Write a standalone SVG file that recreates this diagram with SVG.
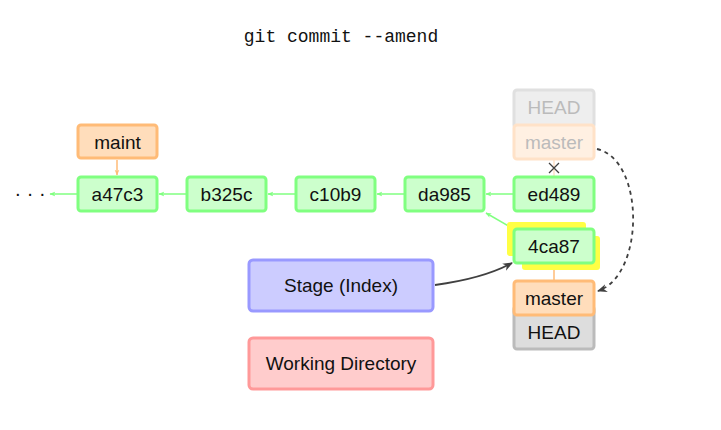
<svg xmlns="http://www.w3.org/2000/svg" width="721" height="430" viewBox="0 0 721 430">
  <defs>
    <marker id="ah-green" viewBox="0 0 10 10" refX="9" refY="5" markerWidth="6" markerHeight="6" orient="auto" markerUnits="userSpaceOnUse">
      <path d="M0,1 L10,5 L0,9 L3,5 Z" fill="#80ff80"/>
    </marker>
    <marker id="ah-orange" viewBox="0 0 10 10" refX="9" refY="5" markerWidth="6" markerHeight="6" orient="auto" markerUnits="userSpaceOnUse">
      <path d="M0,1 L10,5 L0,9 L3,5 Z" fill="#ffbb77"/>
    </marker>
    <marker id="ah-dark" viewBox="0 0 10 10" refX="9" refY="5" markerWidth="10" markerHeight="10" orient="auto" markerUnits="userSpaceOnUse">
      <path d="M0,1 L10,5 L0,9 L3,5 Z" fill="#404040"/>
    </marker>
    <style>
      text { font-family: "Liberation Sans", Arial, sans-serif; font-size: 19px; fill: #111; text-anchor: middle; dominant-baseline: central; }
      .title { font-family: "Liberation Mono", "Courier New", monospace; font-size: 18px; }
      .commit rect { fill: #ccffcc; stroke: #80ff80; stroke-width: 3; }
      .branch rect { fill: #ffddbb; stroke: #ffbb77; stroke-width: 3; }
      .head rect { fill: #dddddd; stroke: #bbbbbb; stroke-width: 3; }
      .ghost-head rect { fill: #eeeeee; stroke: #e0e0e0; stroke-width: 3; }
      .ghost-branch rect { fill: #fff0e2; stroke: #ffe2c8; stroke-width: 3; }
      .ghost-head text, .ghost-branch text { fill: #bbbbbb; }
      .stage rect { fill: #ccccff; stroke: #9999ff; stroke-width: 3; }
      .workdir rect { fill: #ffcccc; stroke: #ff9999; stroke-width: 3; }
      .parent { stroke: #80ff80; stroke-width: 1.5; fill: none; marker-end: url(#ah-green); }
      .ref { stroke: #ffbb77; stroke-width: 1.5; fill: none; marker-end: url(#ah-orange); }
      .ghost-ref { stroke: #ffe2c8; stroke-width: 1.5; fill: none; }
      .move { stroke: #404040; stroke-width: 1.8; fill: none; marker-end: url(#ah-dark); }
      .dashed { stroke-dasharray: 4 4; }
    </style>
  </defs>

  <text class="title" x="341" y="37">git commit --amend</text>

  <!-- connectors -->
  <g id="connectors">
    <line class="parent" x1="77" y1="194" x2="50" y2="194"/>
    <line class="parent" x1="186" y1="194" x2="159" y2="194"/>
    <line class="parent" x1="295" y1="194" x2="268" y2="194"/>
    <line class="parent" x1="404" y1="194" x2="377" y2="194"/>
    <line class="parent" x1="513" y1="194" x2="486" y2="194"/>
    <line class="parent" x1="512" y1="228" x2="486" y2="213"/>
    <line class="ref" x1="117" y1="160" x2="117" y2="175"/>
    <line class="ref" x1="554" y1="280" x2="554" y2="265"/>
    <line class="ghost-ref" x1="554" y1="160" x2="554" y2="176"/>
    <path d="M549,163 L559,173 M559,163 L549,173" stroke="#404040" stroke-width="1.3" fill="none"/>
    <path class="move dashed" d="M597,149 C645,160 645,275 598,291"/>
    <path class="move" d="M435,285 C465,281 490,275 512,263"/>
  </g>

  <text x="30" y="193" style="font-size:20px">· · ·</text>

  <g id="maint" class="branch">
    <rect x="78" y="125" width="79" height="33" rx="3"/>
    <text x="117.5" y="142">maint</text>
  </g>

  <g id="a47c3" class="commit">
    <rect x="78" y="177" width="79" height="34" rx="3"/>
    <text x="117.5" y="194">a47c3</text>
  </g>
  <g id="b325c" class="commit">
    <rect x="187" y="177" width="79" height="34" rx="3"/>
    <text x="226.5" y="194">b325c</text>
  </g>
  <g id="c10b9" class="commit">
    <rect x="296" y="177" width="79" height="34" rx="3"/>
    <text x="335.5" y="194">c10b9</text>
  </g>
  <g id="da985" class="commit">
    <rect x="405" y="177" width="79" height="34" rx="3"/>
    <text x="444.5" y="194">da985</text>
  </g>
  <g id="ed489" class="commit">
    <rect x="514" y="177" width="80" height="34" rx="3"/>
    <text x="554" y="194">ed489</text>
  </g>

  <g id="old-head" class="ghost-head">
    <rect x="514" y="90" width="80" height="38" rx="3"/>
    <text x="554" y="107">HEAD</text>
  </g>
  <g id="old-master" class="ghost-branch">
    <rect x="514" y="125" width="80" height="34" rx="3"/>
    <text x="554" y="142">master</text>
  </g>

  <g id="4ca87">
    <rect x="507" y="222" width="79" height="34" rx="3" fill="#ffff44"/>
    <rect x="522" y="236" width="78" height="34" rx="3" fill="#ffff44"/>
    <g class="commit">
      <rect x="514" y="229" width="80" height="34" rx="3"/>
      <text x="554" y="246">4ca87</text>
    </g>
  </g>

  <g id="head" class="head">
    <rect x="514" y="306" width="80" height="43" rx="3"/>
    <text x="554" y="332">HEAD</text>
  </g>
  <g id="master" class="branch">
    <rect x="514" y="281" width="80" height="34" rx="3"/>
    <text x="554" y="298">master</text>
  </g>

  <g id="stage" class="stage">
    <rect x="249" y="260" width="184" height="51" rx="4"/>
    <text x="341" y="285">Stage (Index)</text>
  </g>
  <g id="working-directory" class="workdir">
    <rect x="249" y="338" width="184" height="51" rx="4"/>
    <text x="341" y="363">Working Directory</text>
  </g>
</svg>
